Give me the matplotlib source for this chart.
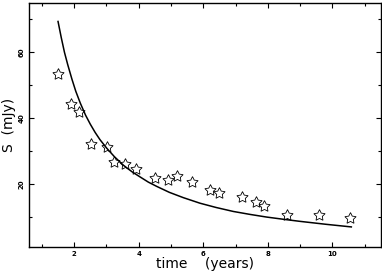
import matplotlib
matplotlib.use("Agg")
import matplotlib.pyplot as plt
from matplotlib.ticker import MultipleLocator

# observed flux densities (stars)
obs_time = [1.50, 1.91, 2.15, 2.52, 3.01, 3.24, 3.58, 3.92, 4.49, 4.91, 5.18,
            5.65, 6.21, 6.49, 7.19, 7.65, 7.89, 8.61, 9.59, 10.56]
obs_flux = [53.5, 44.4, 41.8, 32.2, 31.4, 26.6, 26.1, 24.6, 21.9, 21.4, 22.4,
            20.7, 18.2, 17.2, 16.0, 14.6, 13.3, 10.6, 10.6, 9.6]

# model curve
model_time = [1.50, 1.60, 1.70, 1.80, 1.93, 2.05, 2.19, 2.35, 2.50, 2.65, 2.80,
              3.01, 3.25, 3.53, 3.80, 4.04, 4.30, 4.56, 4.95, 5.38, 5.90,
              6.40, 6.93, 7.45, 7.96, 8.50, 8.99, 9.80, 10.59]
model_flux = [69.4, 64.5, 60.0, 56.3, 51.9, 48.2, 44.6, 41.0, 38.2, 35.7, 33.5,
              30.9, 28.3, 25.7, 23.7, 22.2, 20.6, 19.3, 17.5, 15.9, 14.2,
              12.9, 11.7, 10.8, 10.0, 9.3, 8.7, 7.8, 7.0]

x_ticks = [2, 4, 6, 8, 10]
y_ticks = [20, 40, 60]

fig = plt.figure(figsize=(3.82, 2.75), dpi=100)
ax = fig.add_axes([0.0759, 0.103, 0.9207, 0.886])

ax.plot(model_time, model_flux, color="black", lw=1.1, zorder=2)
ax.plot(obs_time, obs_flux, linestyle="none", marker=(5, 1, 0), markersize=8.5,
        markerfacecolor="none", markeredgecolor="black", markeredgewidth=0.6, zorder=3)

ax.set_xlim(0.6, 11.5)
ax.set_ylim(1, 75)
ax.set_xticks(x_ticks)
ax.set_yticks(y_ticks)
ax.xaxis.set_minor_locator(MultipleLocator(1))
ax.yaxis.set_minor_locator(MultipleLocator(10))
ax.tick_params(which="both", direction="in", top=True, right=True, width=0.8)
ax.tick_params(which="major", length=3.5, labelsize=5, pad=3)
ax.tick_params(which="minor", length=2.5)
for lab in ax.get_xticklabels():
    lab.set_fontweight("bold")
for lab in ax.get_yticklabels():
    lab.set_fontweight("bold")
    lab.set_rotation(90)
    lab.set_va("center")
for s in ax.spines.values():
    s.set_linewidth(1.0)

ax.set_xlabel("time    (years)", fontsize=10, labelpad=0)
ax.set_ylabel("S  (mJy)", fontsize=10, labelpad=2)

fig.savefig("out.png", dpi=100)
